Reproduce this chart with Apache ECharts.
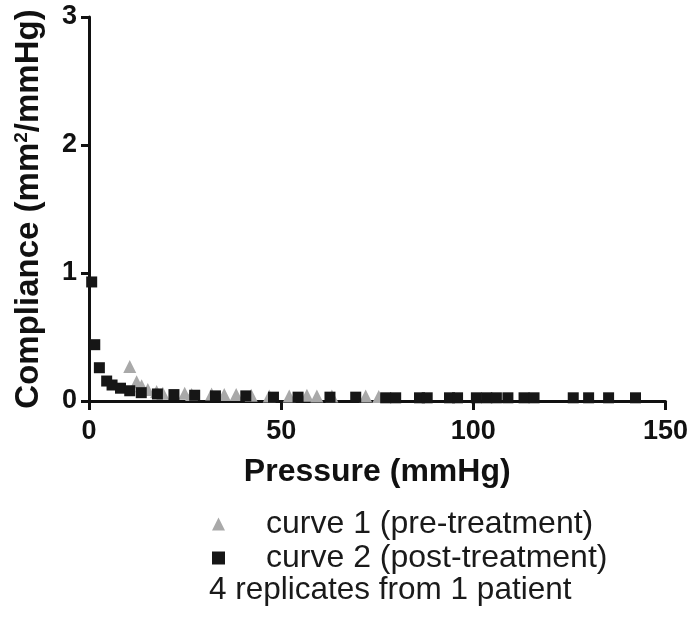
<!DOCTYPE html>
<html>
<head>
<meta charset="utf-8">
<script src="https://cdn.jsdelivr.net/npm/echarts@6/dist/echarts.min.js"></script>
<style>html,body{margin:0;padding:0;background:#fff;}#c{width:691px;height:620px;}</style>
</head>
<body>
<div id="c"></div>
<script>
// Curve 1 (pre-treatment): pressure (mmHg), compliance
var curve1Pressure = [10.6, 12.4, 13.7, 15.3, 17.6, 19.2, 24.9, 26.7, 31.9, 35.2, 38.3, 42.2, 46.9, 52.1, 56.7, 59.3, 63.2, 72.0, 75.4];
var curve1Compliance = [0.27, 0.15, 0.12, 0.09, 0.075, 0.06, 0.06, 0.05, 0.055, 0.05, 0.05, 0.045, 0.04, 0.04, 0.045, 0.04, 0.04, 0.04, 0.035];
// Curve 2 (post-treatment)
var curve2Pressure = [0.7, 1.5, 2.7, 4.6, 6.0, 8.2, 10.6, 13.6, 17.8, 22.1, 27.5, 32.9, 40.8, 48.0, 54.4, 62.7, 69.4, 77.2, 79.8, 86.0, 88.0, 93.8, 95.9, 100.8, 103.5, 106.0, 109.0, 113.2, 115.8, 126.0, 130.0, 135.2, 142.2];
var curve2Compliance = [0.93, 0.44, 0.26, 0.156, 0.125, 0.10, 0.08, 0.065, 0.055, 0.05, 0.045, 0.04, 0.04, 0.03, 0.03, 0.03, 0.03, 0.025, 0.025, 0.025, 0.025, 0.025, 0.025, 0.025, 0.025, 0.025, 0.025, 0.025, 0.025, 0.025, 0.025, 0.025, 0.025];
var xTicks = [0, 50, 100, 150];
var yTicks = [0, 1, 2, 3];
var seriesNames = ['curve 1 (pre-treatment)', 'curve 2 (post-treatment)'];
var noteText = '4 replicates from 1 patient';

function pairs(xs, ys) { return xs.map(function (x, i) { return [x, ys[i]]; }); }

var FONT = '"Liberation Sans", Arial, sans-serif';
var chart = echarts.init(document.getElementById('c'));
chart.setOption({
  animation: false,
  backgroundColor: '#ffffff',
  grid: { left: 89, right: 23, top: 17, bottom: 219, containLabel: false },
  xAxis: {
    type: 'value', min: xTicks[0], max: xTicks[xTicks.length - 1], interval: 50,
    name: 'Pressure (mmHg)', nameLocation: 'middle', nameGap: 55,
    nameTextStyle: { fontFamily: FONT, fontWeight: 'bold', fontSize: 32, color: '#111' },
    axisLine: { lineStyle: { color: '#111', width: 3 } },
    axisTick: { show: true, length: 9, lineStyle: { color: '#111', width: 3 } },
    axisLabel: { fontFamily: FONT, fontWeight: 'bold', fontSize: 27, color: '#111', margin: 17 },
    splitLine: { show: false }
  },
  yAxis: {
    type: 'value', min: yTicks[0], max: yTicks[yTicks.length - 1], interval: 1,
    name: '{t|Compliance (mm}{s|2}{t|/mmHg)}', nameLocation: 'middle', nameGap: 44, nameRotate: 90,
    nameTextStyle: {
      rich: {
        t: { fontFamily: FONT, fontWeight: 'bold', fontSize: 33, color: '#111' },
        s: { fontFamily: FONT, fontWeight: 'bold', fontSize: 19, color: '#111', verticalAlign: 'top', padding: [0, 0, 14, 0] }
      }
    },
    axisLine: { show: true, lineStyle: { color: '#111', width: 3 } },
    axisTick: { show: true, length: 8, lineStyle: { color: '#111', width: 3 } },
    axisLabel: { fontFamily: FONT, fontWeight: 'bold', fontSize: 27, color: '#111', margin: 12 },
    splitLine: { show: false }
  },
  legend: {
    orient: 'vertical', left: 207, top: 503, itemGap: 2,
    itemWidth: 13, itemHeight: 13,
    data: [{ name: seriesNames[0], icon: 'triangle' }, { name: seriesNames[1], icon: 'rect' }],
    textStyle: { fontFamily: FONT, fontSize: 32, color: '#1a1a1a', padding: [0, 0, 0, 36] }
  },
  graphic: [{
    type: 'text', left: 209, top: 574,
    style: { text: noteText, fontFamily: FONT, fontSize: 31.5, fill: '#1a1a1a' }
  }],
  series: [
    {
      name: seriesNames[0], type: 'scatter', symbol: 'triangle', symbolSize: 13,
      itemStyle: { color: '#a9a9a9', opacity: 1 },
      data: pairs(curve1Pressure, curve1Compliance), z: 2
    },
    {
      name: seriesNames[1], type: 'scatter', symbol: 'rect', symbolSize: 11,
      itemStyle: { color: '#161616', opacity: 1 },
      data: pairs(curve2Pressure, curve2Compliance), z: 3
    }
  ]
});
</script>
</body>
</html>
